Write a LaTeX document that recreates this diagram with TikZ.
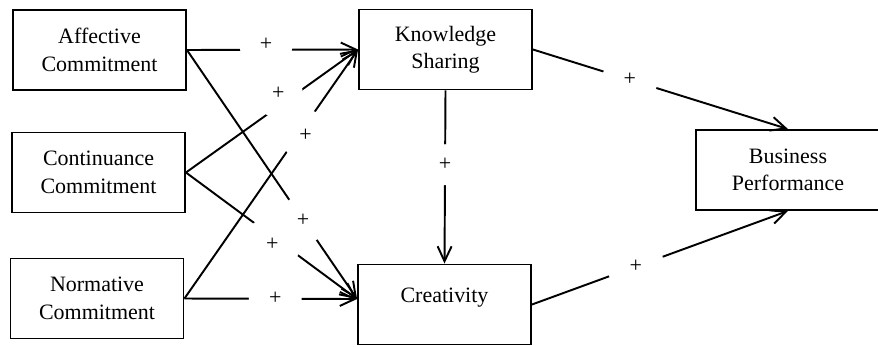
\documentclass[tikz,border=0pt]{standalone}
\usepackage{fontspec}
\setmainfont{Liberation Serif}
\usetikzlibrary{positioning}
\usetikzlibrary{arrows.meta}

\tikzset{
	box/.style={draw, line width=1.1pt, minimum width=3.46cm, minimum height=1.6cm, align=center, font=\fontsize{12.5}{15.6}\selectfont},
	link/.style={line width=1.1pt, -{Straight Barb[length=0.3cm,width=0.28cm]}},
	plus/.style={circle, fill=white, inner sep=0pt, font=\fontsize{12.5}{15}\selectfont},
}

\begin{document}
\begin{tikzpicture}[x=0.02cm,y=-0.02cm]
		\useasboundingbox (0,0) rectangle (878,346);
		\node [box] (AC) at (99.5,50) {Affective\\Commitment};
		\node [box] (CC) at (98.5,172.5) {Continuance\\Commitment};
		\node [box] (NC) at (97,298.5) {Normative\\Commitment};
		\node [box] (KS) at (445.5,49.5) {Knowledge\\Sharing};
		\node [box, text depth=0.36cm] (CR) at (444.5,304.5) {Creativity};
		\node [box, minimum width=3.68cm] (BP) at (788,170) {Business\\Performance};

		\draw [link] (AC.east) -- node [plus, pos=0.462, yshift=0.11cm, minimum size=1.06cm] {+} (KS.west);
		\draw [link] (AC.east) -- node [plus, pos=0.682, minimum size=0.97cm] {+} ([yshift=0.11cm]CR.west);
		\draw [link] (CC.east) -- node [plus, pos=0.572, xshift=-0.124cm, yshift=0.178cm, minimum size=0.98cm] {+} (KS.west);
		\draw [link] (CC.east) -- node [plus, pos=0.526, xshift=-0.074cm, yshift=-0.1cm, minimum size=1.12cm] {+} ([yshift=0.11cm]CR.west);
		\draw [link] (NC.east) -- node [plus, pos=0.670, xshift=0.096cm, yshift=-0.068cm, minimum size=1.01cm] {+} (KS.west);
		\draw [link] (NC.east) -- node [plus, pos=0.526, minimum size=1.06cm] {+} ([yshift=0.11cm]CR.west);
		\draw [link] (KS.south) -- node [plus, pos=0.429, minimum size=0.82cm] {+} (CR.north);
		\draw [link] (KS.east) -- node [plus, pos=0.380, minimum size=1.11cm] {+} (BP.north);
		\draw [link] (CR.east) -- node [plus, pos=0.406, minimum size=1.14cm] {+} (BP.south);
	\end{tikzpicture}
\end{document}
